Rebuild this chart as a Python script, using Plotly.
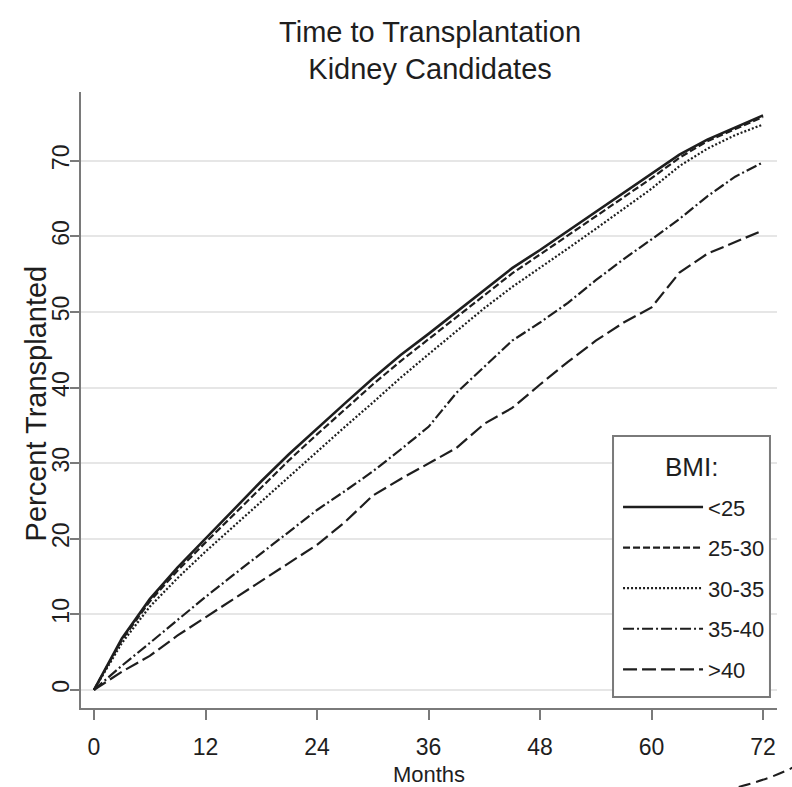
import plotly.graph_objects as go

# Kaplan-Meier style cumulative percent transplanted, by BMI group
months = [0, 3, 6, 9, 12, 15, 18, 21, 24, 27, 30, 33, 36,
          39, 42, 45, 48, 51, 54, 57, 60, 63, 66, 69, 72]

bmi_lt25 = [0, 6.8, 12.0, 16.2, 20.0, 23.8, 27.6, 31.2, 34.6, 37.9, 41.2, 44.3, 47.1,
            50.0, 53.0, 55.8, 58.2, 60.7, 63.3, 65.7, 68.2, 70.8, 72.8, 74.4, 76.0]
bmi_25_30 = [0, 6.6, 11.7, 15.8, 19.5, 23.1, 26.8, 30.4, 33.8, 37.1, 40.4, 43.5, 46.4,
             49.3, 52.3, 55.1, 57.6, 60.1, 62.7, 65.1, 67.7, 70.4, 72.6, 74.2, 75.8]
bmi_30_35 = [0, 6.2, 11.0, 14.8, 18.3, 21.6, 25.0, 28.3, 31.5, 34.8, 38.0, 41.3, 44.4,
             47.4, 50.5, 53.3, 55.8, 58.4, 61.0, 63.6, 66.3, 69.3, 71.6, 73.4, 74.8]
bmi_35_40 = [0, 3.2, 6.2, 9.3, 12.3, 15.2, 18.1, 21.0, 23.8, 26.3, 28.9, 31.8, 34.8,
             39.3, 42.8, 46.2, 48.6, 51.2, 54.2, 57.0, 59.6, 62.3, 65.3, 67.9, 69.8]
bmi_gt40 = [0, 2.4, 4.5, 7.2, 9.6, 12.0, 14.4, 16.8, 19.2, 22.2, 25.7, 27.9, 30.0,
            32.0, 35.2, 37.3, 40.4, 43.4, 46.2, 48.6, 50.6, 55.2, 57.7, 59.3, 60.8]

group_labels = ["<25", "25-30", "30-35", "35-40", ">40"]
group_values = [bmi_lt25, bmi_25_30, bmi_30_35, bmi_35_40, bmi_gt40]
group_dashes = ["solid", "7px,3px", "2px,2px", "11px,3px,2px,3px", "14px,5px"]
group_widths = [2.6, 2.2, 2.2, 2.2, 2.2]

x_ticks = [0, 12, 24, 36, 48, 60, 72]
y_ticks = [0, 10, 20, 30, 40, 50, 60, 70]

FONT = "Liberation Sans, Arial, sans-serif"
INK = "#1e1e1e"
AXIS = "#7a7a7a"

fig = go.Figure()
for label, vals, dash, w in zip(group_labels, group_values, group_dashes, group_widths):
    fig.add_trace(go.Scatter(
        x=months, y=vals, mode="lines", name=label, legendgroup=label,
        line=dict(color=INK, width=w, dash=dash),
        hoverinfo="skip",
    ))

# legend frame (white panel) and its heading
legend_box = dict(x0=0.7644, x1=0.9899, y0=0.0179, y1=0.4416)
fig.add_shape(
    type="rect", xref="paper", yref="paper", layer="above",
    fillcolor="white", line=dict(color=AXIS, width=2), **legend_box,
)

fig.update_layout(
    width=792, height=787, autosize=False,
    margin=dict(l=81, r=15, t=92, b=79, pad=0, autoexpand=False),
    paper_bgcolor="white", plot_bgcolor="white",
    title=dict(
        text="Time to Transplantation<br>Kidney Candidates",
        x=0.543, xanchor="center", y=0.947, yanchor="top",
        font=dict(family=FONT, size=29, color=INK),
    ),
    legend=dict(
        x=0.99, xanchor="right", y=0.029, yanchor="bottom",
        bgcolor="rgba(0,0,0,0)", borderwidth=0,
        font=dict(family=FONT, size=22, color=INK),
        itemwidth=80, tracegroupgap=9, traceorder="grouped",
    ),
    annotations=[
        dict(text="Percent Transplanted", textangle=-90,
             xref="paper", yref="paper", x=-0.0650, y=0.494,
             xanchor="center", yanchor="middle", showarrow=False,
             font=dict(family=FONT, size=29, color=INK)),
        dict(text="BMI:", xref="paper", yref="paper",
             x=(legend_box["x0"] + legend_box["x1"]) / 2, y=0.391,
             xanchor="center", yanchor="middle", showarrow=False,
             font=dict(family=FONT, size=26, color=INK)),
    ],
)

fig.update_xaxes(
    range=[-1.4, 73.5], tickvals=x_ticks, ticktext=[str(v) for v in x_ticks],
    showline=True, linecolor=AXIS, linewidth=2, mirror=False,
    ticks="outside", ticklen=10, tickwidth=2, tickcolor=AXIS,
    showgrid=False, zeroline=False, ticklabelstandoff=7, automargin=False,
    tickfont=dict(family=FONT, size=23, color=INK),
    title=dict(text="Months", standoff=9, font=dict(family=FONT, size=22, color=INK)),
)
fig.update_yaxes(
    range=[-2.4, 79.1], tickvals=y_ticks, ticktext=[str(v) for v in y_ticks],
    showline=True, linecolor=AXIS, linewidth=2, mirror=False,
    ticks="outside", ticklen=9, tickwidth=2, tickcolor=AXIS,
    showgrid=True, gridcolor="#e6e6e6", gridwidth=2, zeroline=False,
    tickangle=-90, ticklabelstandoff=-8, automargin=False,
    tickfont=dict(family=FONT, size=23, color=INK),
)

# small stray stroke at the lower right page edge
fig.add_shape(
    type="path", xref="paper", yref="paper",
    path="M 0.945,-0.128 Q 0.99,-0.115 1.022,-0.097",
    line=dict(color=INK, width=2, dash="12px,6px"),
)

fig.write_html("out.html")
